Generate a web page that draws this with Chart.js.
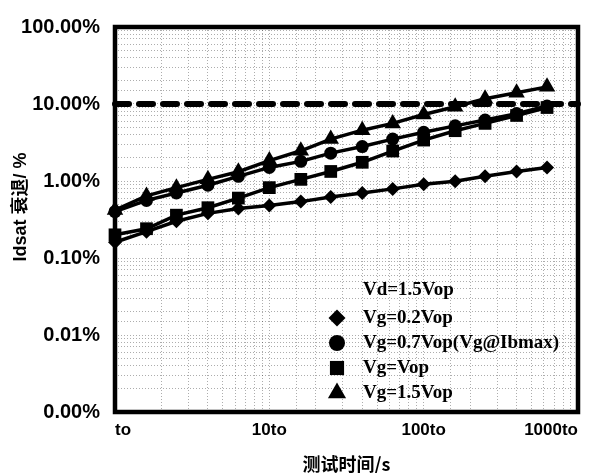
<!DOCTYPE html>
<html>
<head>
<meta charset="utf-8">
<script src="https://cdn.jsdelivr.net/npm/chart.js@4"></script>
<style>
  html, body { margin: 0; padding: 0; background: #fff; }
  #wrap { width: 596px; height: 473px; }
</style>
</head>
<body>
<div id="wrap"><canvas id="c" width="596" height="473"></canvas></div>
<script>
/* Idsat degradation vs stress time, log-log, four gate biases */
const xTimes = [1, 1.6, 2.5, 4, 6.3, 10, 16, 25, 40, 63, 100, 160, 250, 400, 630];
const xTickValues = [1, 10, 100, 1000];
const xTickNames = ["to", "10to", "100to", "1000to"];
const yTickValues = [0.001, 0.01, 0.1, 1, 10, 100];
const yTickNames = ["0.00%", "0.01%", "0.10%", "1.00%", "10.00%", "100.00%"];

// degradation in %
const vg02 = [0.16, 0.22, 0.30, 0.38, 0.44, 0.48, 0.54, 0.62, 0.70, 0.79, 0.91, 0.99, 1.15, 1.33, 1.50];
const vg07 = [0.40, 0.56, 0.70, 0.88, 1.15, 1.50, 1.80, 2.30, 2.80, 3.50, 4.30, 5.20, 6.20, 7.50, 9.40];
const vgOp = [0.20, 0.24, 0.36, 0.45, 0.60, 0.82, 1.05, 1.33, 1.75, 2.45, 3.40, 4.50, 5.60, 7.10, 9.00];
const vg15 = [0.42, 0.64, 0.82, 1.05, 1.32, 1.84, 2.47, 3.50, 4.57, 5.60, 7.30, 9.20, 11.7, 14.0, 16.7];
const limitX = [1, 1000];
const limitY = [10, 10];

const legendTitle = "Vd=1.5Vop";
const seriesNames = ["Vg=0.2Vop", "Vg=0.7Vop(Vg@Ibmax)", "Vg=Vop", "Vg=1.5Vop"];
const seriesStyles = ["rectRot", "circle", "rect", "triangle"];
const markerSize = [7, 6.5, 9, 9.5];
const legendSize = [8.5, 8, 10, 10.5];

const mk = (xs, ys) => xs.map((x, i) => ({ x, y: ys[i] }));
const near = (a, b) => Math.abs(Math.log10(a) - Math.log10(b)) < 1e-6;
const tickName = (vals, names) => (v) => {
  const i = vals.findIndex((t) => near(t, v));
  return i >= 0 ? names[i] : "";
};

const series = [vg02, vg07, vgOp, vg15].map((vals, i) => ({
  label: seriesNames[i],
  data: mk(xTimes, vals),
  borderColor: "#000",
  backgroundColor: "#000",
  borderWidth: 3.5,
  pointStyle: seriesStyles[i],
  pointRadius: markerSize[i],
  pointBorderWidth: 0,
  tension: 0,
  clip: false,
}));

series.push({
  label: "limit",
  data: mk(limitX, limitY),
  borderColor: "#000",
  borderWidth: 6,
  borderDash: [14, 10],
  borderCapStyle: "round",
  pointRadius: 0,
  clip: false,
});

/* ---------- plugins: plot frame + inset legend ---------- */
const frame = {
  id: "frame",
  beforeDatasetsDraw(chart) {
    const { ctx, chartArea: a } = chart;
    ctx.save();
    ctx.lineWidth = 4.5;
    ctx.strokeStyle = "#000";
    ctx.strokeRect(a.left, a.top, a.right - a.left, a.bottom - a.top);
    ctx.restore();
  },
};

const insetLegend = {
  id: "insetLegend",
  afterDatasetsDraw(chart) {
    const { ctx, chartArea: a } = chart;
    const textX = a.left + 248, markX = a.left + 222;
    ctx.save();
    ctx.fillStyle = "#000";
    ctx.font = "bold 19px 'Liberation Serif', serif";
    ctx.textBaseline = "middle";
    ctx.textAlign = "left";
    ctx.fillText(legendTitle, textX, a.bottom - 122);
    seriesNames.forEach((name, i) => {
      const y = a.bottom - 94 + 25 * i;
      Chart.helpers.drawPoint(ctx, { pointStyle: seriesStyles[i], radius: legendSize[i], rotation: 0, borderWidth: 0 }, markX, y);
      ctx.fillStyle = "#000";
      ctx.fillText(name, textX, y);
    });
    ctx.restore();
  },
};

const tickFont = (size) => ({ family: "'Liberation Sans', Arial, sans-serif", size, weight: "bold" });
const gridOpts = { color: "rgba(0,0,0,0.32)", lineWidth: 1, drawTicks: false };

new Chart(document.getElementById("c"), {
  type: "line",
  data: { datasets: series },
  plugins: [frame, insetLegend],
  options: {
    responsive: false,
    animation: false,
    devicePixelRatio: 1,
    layout: { padding: { top: 20, right: 18, left: 0, bottom: 0 } },
    plugins: { legend: { display: false }, tooltip: { enabled: false } },
    scales: {
      x: {
        type: "logarithmic",
        min: 1,
        max: 1000,
        afterFit: (s) => { s.height = 61; },
        grid: gridOpts,
        border: { display: false, dash: [1, 2] },
        ticks: {
          autoSkip: false, maxRotation: 0, minRotation: 0, align: "inner",
          padding: 8, color: "#000", font: tickFont(17),
          callback: tickName(xTickValues, xTickNames),
        },
        title: {
          display: true, text: "测试时间/s", color: "#000",
          padding: { top: 0, bottom: 0 },
          font: { family: "'Noto Sans CJK SC', sans-serif", size: 18, weight: "bold", lineHeight: 1 },
        },
      },
      y: {
        type: "logarithmic",
        min: 0.001,
        max: 100,
        afterFit: (s) => { s.width = 115; },
        grid: gridOpts,
        border: { display: false, dash: [1, 2] },
        ticks: {
          autoSkip: false, padding: 15, color: "#000", font: tickFont(20),
          callback: tickName(yTickValues, yTickNames),
        },
        title: {
          display: true, text: "     Idsat 衰退/ %", color: "#000",
          padding: { top: 10, bottom: 0 },
          font: { family: "'Liberation Sans', 'Noto Sans CJK SC', sans-serif", size: 18, weight: "bold" },
        },
      },
    },
  },
});
</script>
</body>
</html>
